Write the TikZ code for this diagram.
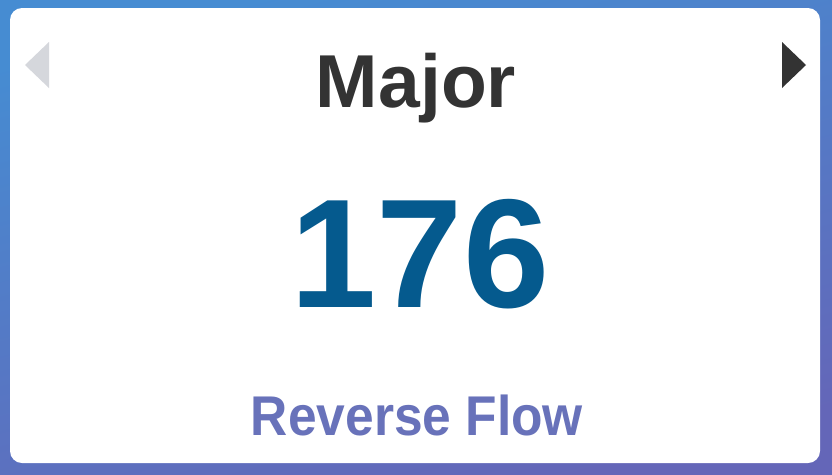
\documentclass[tikz,border=0pt]{standalone}
\usepackage{fontspec}
\setmainfont{Liberation Sans}
\definecolor{darktext}{RGB}{51,51,51}
\definecolor{countblue}{RGB}{5,90,142}
\definecolor{flowblue}{RGB}{104,114,186}
\definecolor{arrowgray}{RGB}{213,215,220}
\definecolor{bgtop}{RGB}{70,140,210}
\definecolor{bgbottom}{RGB}{100,102,184}

\begin{document}
\begin{tikzpicture}
		[x=1pt,y=-1pt,
		card/.style={fill=white,rounded corners=12pt},
		label/.style={inner sep=0pt,anchor=base,font=\bfseries}]
		\useasboundingbox (0,0) rectangle (832,474);
		\shade[top color=bgtop,bottom color=bgbottom,shading angle=15] (0,0) rectangle (832,474);
		\fill[card] (10,8) rectangle (820,463);

		\fill[arrowgray] (49,42) -- (49,88) -- (25,65) -- cycle;
		\fill[darktext] (782,42) -- (782,88) -- (806,65) -- cycle;

		\node[label,text=darktext] (title) at (416,107) {\fontsize{75}{75}\selectfont Major};
		\node[label,text=countblue] (count) at (420,307) {\fontsize{155}{155}\selectfont 176};
		\node[label,text=flowblue] (flow) at (417,435) {\scalebox{0.92}[1]{\fontsize{56}{56}\selectfont Reverse Flow}};

	\end{tikzpicture}
\end{document}
